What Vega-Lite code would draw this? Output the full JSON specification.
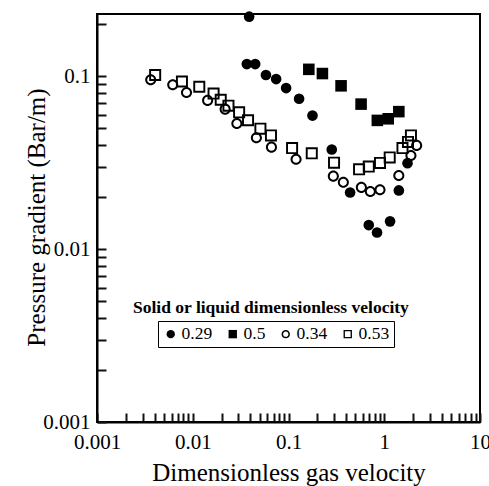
{
  "$schema": "https://vega.github.io/schema/vega-lite/v6.json",
  "width": 383,
  "height": 408,
  "autosize": "none",
  "padding": {"left": 97, "top": 14, "right": 9, "bottom": 64},
  "background": "white",
  "config": {
    "view": {"stroke": "black", "strokeWidth": 2},
    "font": "Liberation Serif",
    "axis": {
      "grid": false,
      "domainColor": "black",
      "domainWidth": 2,
      "tickColor": "#111111",
      "tickWidth": 2,
      "tickOpacity": 1,
      "labelColor": "black",
      "titleColor": "black",
      "labelFont": "Liberation Serif",
      "titleFont": "Liberation Serif",
      "labelFontSize": 21,
      "titleFontSize": 25,
      "titleFontWeight": "normal",
      "labelOverlap": false,
      "labelFlush": false
    }
  },
  "data": {
    "values": [
      {"x": 0.0388, "y": 0.222, "series": "0.29"},
      {"x": 0.0367, "y": 0.118, "series": "0.29"},
      {"x": 0.0449, "y": 0.118, "series": "0.29"},
      {"x": 0.0581, "y": 0.102, "series": "0.29"},
      {"x": 0.0743, "y": 0.0966, "series": "0.29"},
      {"x": 0.0944, "y": 0.0857, "series": "0.29"},
      {"x": 0.129, "y": 0.0743, "series": "0.29"},
      {"x": 0.178, "y": 0.0594, "series": "0.29"},
      {"x": 0.283, "y": 0.0378, "series": "0.29"},
      {"x": 0.44, "y": 0.0213, "series": "0.29"},
      {"x": 1.42, "y": 0.0219, "series": "0.29"},
      {"x": 1.75, "y": 0.0315, "series": "0.29"},
      {"x": 0.689, "y": 0.0138, "series": "0.29"},
      {"x": 0.841, "y": 0.0125, "series": "0.29"},
      {"x": 1.15, "y": 0.0145, "series": "0.29"},
      {"x": 0.163, "y": 0.11, "series": "0.5"},
      {"x": 0.226, "y": 0.104, "series": "0.5"},
      {"x": 0.354, "y": 0.0883, "series": "0.5"},
      {"x": 0.573, "y": 0.0692, "series": "0.5"},
      {"x": 0.847, "y": 0.0557, "series": "0.5"},
      {"x": 1.1, "y": 0.0569, "series": "0.5"},
      {"x": 1.42, "y": 0.0626, "series": "0.5"},
      {"x": 0.00364, "y": 0.0957, "series": "0.34"},
      {"x": 0.00618, "y": 0.0895, "series": "0.34"},
      {"x": 0.00861, "y": 0.0808, "series": "0.34"},
      {"x": 0.0143, "y": 0.0727, "series": "0.34"},
      {"x": 0.0218, "y": 0.0647, "series": "0.34"},
      {"x": 0.0289, "y": 0.0534, "series": "0.34"},
      {"x": 0.0462, "y": 0.0442, "series": "0.34"},
      {"x": 0.0664, "y": 0.039, "series": "0.34"},
      {"x": 0.12, "y": 0.0332, "series": "0.34"},
      {"x": 0.294, "y": 0.0265, "series": "0.34"},
      {"x": 0.374, "y": 0.0244, "series": "0.34"},
      {"x": 0.577, "y": 0.0228, "series": "0.34"},
      {"x": 0.716, "y": 0.0216, "series": "0.34"},
      {"x": 0.903, "y": 0.0221, "series": "0.34"},
      {"x": 1.42, "y": 0.0267, "series": "0.34"},
      {"x": 1.9, "y": 0.0349, "series": "0.34"},
      {"x": 2.18, "y": 0.0399, "series": "0.34"},
      {"x": 0.00405, "y": 0.102, "series": "0.53"},
      {"x": 0.00771, "y": 0.0935, "series": "0.53"},
      {"x": 0.0117, "y": 0.0872, "series": "0.53"},
      {"x": 0.0165, "y": 0.0796, "series": "0.53"},
      {"x": 0.0196, "y": 0.0733, "series": "0.53"},
      {"x": 0.0236, "y": 0.0678, "series": "0.53"},
      {"x": 0.0305, "y": 0.062, "series": "0.53"},
      {"x": 0.0378, "y": 0.0558, "series": "0.53"},
      {"x": 0.0509, "y": 0.0499, "series": "0.53"},
      {"x": 0.0656, "y": 0.0456, "series": "0.53"},
      {"x": 0.109, "y": 0.0385, "series": "0.53"},
      {"x": 0.175, "y": 0.0359, "series": "0.53"},
      {"x": 0.299, "y": 0.0317, "series": "0.53"},
      {"x": 0.546, "y": 0.029, "series": "0.53"},
      {"x": 0.689, "y": 0.0301, "series": "0.53"},
      {"x": 0.903, "y": 0.0316, "series": "0.53"},
      {"x": 1.14, "y": 0.034, "series": "0.53"},
      {"x": 1.55, "y": 0.0385, "series": "0.53"},
      {"x": 1.77, "y": 0.0418, "series": "0.53"},
      {"x": 1.9, "y": 0.0456, "series": "0.53"}
    ]
  },
  "mark": {"type": "point", "filled": true, "fill": "black", "strokeWidth": 0},
  "encoding": {
    "opacity": {"value": 1},
    "x": {
      "field": "x",
      "type": "quantitative",
      "scale": {"type": "log", "domain": [0.001, 10], "nice": false},
      "axis": {
        "title": "Dimensionless gas velocity",
        "values": [0.001,0.002,0.003,0.004,0.005,0.006,0.007,0.008,0.009,0.01,0.02,0.03,0.04,0.05,0.06,0.07,0.08,0.09,0.1,0.2,0.3,0.4,0.5,0.6,0.7,0.8,0.9,1,2,3,4,5,6,7,8,9,10],
        "format": "~g",
        "labelExpr": "indexof([0.001,0.01,0.1,1,10], datum.value) >= 0 ? datum.label : ''",
        "ticks": true,
        "tickSize": -9,
        "labelPadding": 18,
        "titlePadding": 8
      }
    },
    "y": {
      "field": "y",
      "type": "quantitative",
      "scale": {"type": "log", "domain": [0.001, 0.23], "nice": false},
      "axis": {
        "title": "Pressure gradient (Bar/m)",
        "values": [0.001,0.002,0.003,0.004,0.005,0.006,0.007,0.008,0.009,0.01,0.02,0.03,0.04,0.05,0.06,0.07,0.08,0.09,0.1,0.2],
        "format": "~g",
        "labelExpr": "indexof([0.001,0.01,0.1], datum.value) >= 0 ? datum.label : ''",
        "ticks": true,
        "tickSize": -9,
        "labelPadding": 16,
        "titleX": -48,
        "titleY": 203,
        "titleBaseline": "bottom",
        "titleAngle": -90
      }
    },
    "shape": {
      "field": "series",
      "type": "nominal",
      "scale": {
        "domain": ["0.29", "0.5", "0.34", "0.53"],
        "range": [
          "circle",
          "square",
          "M-1,0A1,1,0,1,1,1,0A1,1,0,1,1,-1,0Z M-0.64,0A0.64,0.64,0,1,0,0.64,0A0.64,0.64,0,1,0,-0.64,0Z",
          "M-1,-1H1V1H-1Z M-0.68,-0.68V0.68H0.68V-0.68Z"
        ]
      },
      "legend": {
        "title": null, "orient": "none", "legendX": 61, "legendY": 307,
        "direction": "horizontal", "columns": 4, "columnPadding": 11,
        "strokeColor": "black", "padding": 4,
        "labelFont": "Liberation Serif", "labelFontSize": 17.5, "labelColor": "black", "labelOffset": 2,
        "symbolSize": 70, "symbolFillColor": "black", "symbolStrokeWidth": 0
      }
    },
    "size": {
      "field": "series",
      "type": "nominal",
      "scale": {"domain": ["0.29", "0.34", "0.5", "0.53"], "range": [113, 144, 169, 169]},
      "legend": {
        "title": "Solid or liquid dimensionless velocity", "orient": "none", "legendX": 36, "legendY": 285,
        "titleFont": "Liberation Serif", "titleFontSize": 17.5, "titleFontWeight": "bold", "titleColor": "black", "titleLimit": 500,
        "direction": "horizontal", "columns": 4, "symbolOpacity": 0, "labelOpacity": 0, "padding": 0
      }
    }
  }
}
